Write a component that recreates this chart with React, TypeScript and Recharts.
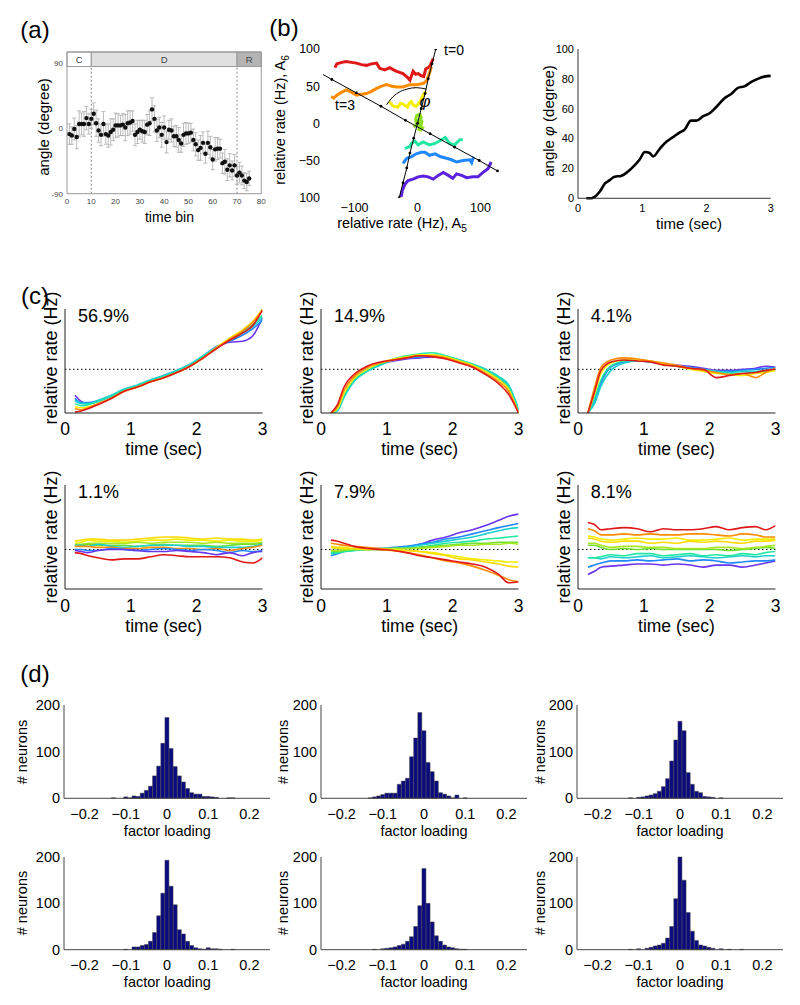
import React from "react";
import {
  Bar,
  BarChart,
  ComposedChart,
  ErrorBar,
  Line,
  LineChart,
  ReferenceArea,
  ReferenceLine,
  Scatter,
  ScatterChart,
  XAxis,
  YAxis,
} from "recharts";

const FONT = '"Liberation Sans", Arial, Helvetica, sans-serif';

// ---------- panel (a): angle per time bin ----------
const A_BINS = [
  1, 2, 3, 4, 5, 6, 7, 8, 9, 10, 11, 12, 13, 14, 15, 16, 17, 18, 19, 20, 21, 22, 23, 24, 25,
  26, 27, 28, 29, 30, 31, 32, 33, 34, 35, 36, 37, 38, 39, 40, 41, 42, 43, 44, 45, 46, 47, 48, 49, 50,
  51, 52, 53, 54, 55, 56, 57, 58, 59, 60, 61, 62, 63, 64, 65, 66, 67, 68, 69, 70, 71, 72, 73, 74, 75,
];
const A_ANGLE = [
  -8, -10, -1, -12, 6, 6, 6, 14, 6, 13, 20, 7, -3, -9, 6, -8, -10, -5, -2, 4, 4, 4, 5, 1, 7,
  8, 10, -9, -5, -2, -4, -5, 5, 7, 26, 13, -3, 1, -9, 1, -19, -2, -3, -11, -11, -16, -21, -9, -7, -7,
  -6, -16, -22, -30, -27, -20, -35, -20, -26, -43, -29, -28, -28, -48, -46, -57, -51, -58, -51, -65, -61, -65, -72, -74, -69,
];
const A_ERR = [
  14, 12, 15, 16, 18, 15, 17, 16, 14, 13, 15, 18, 16, 15, 17,
  14, 16, 18, 15, 17, 16, 14, 15, 18, 17, 16, 14, 15, 16, 13,
  15, 16, 14, 17, 16, 18, 15, 14, 17, 16, 15, 13, 16, 14, 15,
  17, 12, 16, 15, 14, 13, 15, 16, 14, 17, 15, 13, 16, 15, 14,
  16, 15, 13, 14, 17, 15, 16, 13, 15, 12, 14, 13, 11, 12, 10,
];
const A_XTICKS = [0, 10, 20, 30, 40, 50, 60, 70, 80];

// ---------- panel (b), left: trajectories in the A5/A6 plane ----------
const TRAJ_RED: [number, number][] = [
  [-131, 75], [-128, 80], [-120, 82], [-113, 83], [-105, 82], [-97, 81], [-89, 79], [-81, 78], [-73, 80],
  [-65, 81], [-60, 74], [-52, 72], [-44, 75], [-38, 72], [-33, 70], [-23, 67], [-16, 62], [-12, 58],
  [-7, 70], [-3, 66], [1, 67], [6, 64], [10, 63], [13, 73], [19, 76], [25, 87],
];
const TRAJ_ORANGE: [number, number][] = [
  [-137, 36], [-133, 34], [-128, 38], [-120, 42], [-113, 45], [-105, 42], [-97, 38], [-89, 39], [-81, 40],
  [-73, 43], [-65, 47], [-57, 50], [-49, 52], [-41, 50], [-33, 49], [-23, 49], [-12, 52], [-2, 52],
  [5, 53], [10, 54], [15, 58], [17, 63], [20, 70], [22, 76],
];
const TRAJ_YELLOW: [number, number][] = [
  [-45, 29], [-38, 23], [-31, 22], [-27, 27], [-23, 26], [-16, 22], [-13, 27], [-10, 29], [-6, 24],
  [-2, 23], [1, 26], [4, 29], [9, 38], [13, 43],
];
const TRAJ_LIME: [number, number][] = [
  [-6, -5], [-2, -2], [3, 3], [6, 8], [4, 12], [-1, 11], [-3, 6], [-2, 0], [2, -4], [6, -2], [7, 3],
  [4, 6], [1, 4], [3, -3], [8, -6], [5, -9], [0, -7],
];
const TRAJ_SPRING: [number, number][] = [
  [-20, -34], [-12, -31], [-10, -27], [-4, -24], [1, -29], [9, -25], [19, -29], [28, -27], [38, -22],
  [44, -19], [51, -27], [59, -29], [67, -22], [72, -22],
];
const TRAJ_BLUE: [number, number][] = [
  [-23, -54], [-17, -47], [-10, -45], [-2, -41], [6, -39], [12, -39], [19, -43], [28, -41], [37, -45],
  [46, -47], [54, -49], [62, -52], [72, -50], [83, -49], [86, -53], [89, -45],
];
const TRAJ_PURPLE: [number, number][] = [
  [-26, -99], [-24, -90], [-20, -82], [-15, -77], [-7, -75], [1, -72], [9, -71], [17, -72], [25, -75],
  [33, -70], [41, -66], [49, -70], [56, -74], [62, -68], [70, -70], [78, -73], [88, -72], [96, -72],
  [104, -66], [112, -61], [117, -52],
];
// the two reference axes (t=3 end line and t=0 start line)
const END_LINE: [number, number][] = [
  [-155, 68], [-136, 59], [-97, 41], [-58, 23], [-19, 4], [20, -14], [59, -32], [98, -50], [127, -64],
];
const START_LINE: [number, number][] = [
  [-29, -100], [-23, -80], [-17, -60], [-12, -40], [-6, -20], [0, 0], [6, 20], [12, 40], [17, 60], [23, 80], [29, 100],
];
const PHI_ARC: [number, number][] = [
  [-49, 25], [-41, 34], [-31, 41], [-17, 46], [-2, 48], [14, 46],
];

// ---------- panel (b), right: angle phi over time ----------
const PHI_T = [
  0.13, 0.21, 0.26, 0.34, 0.42, 0.49, 0.57, 0.67, 0.78, 0.88, 0.96, 1.04, 1.11, 1.17, 1.27, 1.38,
  1.48, 1.58, 1.66, 1.76, 1.84, 1.95, 2.05, 2.15, 2.28, 2.39, 2.49, 2.59, 2.7, 2.8, 2.9, 3.0,
];
const PHI_DEG = [
  0, 0, 1, 4.5, 10, 12, 14.5, 15, 18, 22, 26, 31, 30.5, 28, 33, 38,
  41, 44, 46, 52, 52, 55, 57, 61, 67, 70, 74, 75, 78, 80, 81.5, 82,
];

// ---------- panel (c): relative rates ----------
const T_C = [0.15, 0.25, 0.35, 0.5, 0.7, 0.9, 1.1, 1.3, 1.5, 1.7, 1.9, 2.1, 2.3, 2.5, 2.7, 2.85, 3.0];

const PURPLE = "#6a35ee";
const BLUE = "#2088ff";
const CYAN = "#18d0d0";
const SPRING = "#20e8a0";
const LIME = "#a8e820";
const GREEN = "#70e030";
const YELLOW = "#f4ee00";
const GOLD = "#ffdc00";
const ORANGE = "#ff8c00";
const RED = "#e01818";

const COLORS7 = [PURPLE, BLUE, CYAN, SPRING, YELLOW, ORANGE, RED];

const C1 = [
  [-25, -31, -33, -31, -26, -20, -16, -11, -7, -2, 4, 12, 21, 26, 27, 32, 50],
  [-28, -32, -32, -30, -26, -20, -16, -11, -6, -1, 5, 13, 22, 27, 33, 39, 47],
  [-30, -33, -33, -30, -25, -19, -15, -10, -6, -1, 5, 13, 21, 28, 35, 41, 50],
  [-33, -35, -34, -31, -26, -20, -16, -11, -7, -2, 4, 12, 20, 29, 36, 43, 52],
  [-36, -37, -36, -33, -28, -21, -17, -12, -8, -3, 3, 11, 21, 30, 38, 46, 58],
  [-38, -39, -37, -33, -28, -21, -17, -12, -8, -3, 3, 11, 20, 29, 37, 45, 57],
  [-41, -40, -38, -34, -28, -21, -17, -12, -8, -3, 3, 11, 20, 28, 35, 42, 57],
];
const C2 = [
  [-42, -38, -24, -9, 0, 5, 8, 10, 11, 12, 11, 8, 4, -2, -9, -18, -41],
  [-42, -39, -26, -11, -1, 5, 9, 11, 12, 13, 12, 9, 4, -1, -8, -16, -40],
  [-42, -40, -27, -12, -2, 4, 9, 12, 13, 14, 12, 9, 5, 0, -7, -15, -38],
  [-42, -39, -25, -10, -1, 5, 10, 13, 15, 16, 13, 9, 5, -1, -8, -17, -40],
  [-42, -38, -23, -9, 0, 6, 10, 12, 14, 14, 12, 8, 4, -2, -10, -19, -42],
  [-42, -36, -20, -7, 2, 6, 9, 11, 13, 13, 11, 7, 3, -4, -12, -21, -42],
  [-42, -34, -17, -5, 3, 7, 9, 11, 13, 12, 10, 6, 2, -5, -14, -24, -42],
];
const C3 = [
  [-42, -30, -12, 3, 7, 8, 7, 5, 4, 3, 1, -1, -1, 0, 1, 3, 2],
  [-42, -31, -13, 2, 7, 8, 7, 5, 3, 2, 0, -2, -2, -1, 0, 1, 2],
  [-42, -33, -16, -1, 6, 8, 7, 5, 3, 1, 0, -2, -3, -2, -2, -1, 1],
  [-42, -28, -10, 3, 8, 9, 8, 5, 3, 1, -1, -3, -4, -4, -3, -2, 0],
  [-42, -24, -4, 6, 9, 9, 8, 5, 3, 0, -2, -4, -5, -6, -4, -3, -1],
  [-42, -18, 2, 9, 11, 10, 8, 6, 4, 1, -1, -3, -5, -4, -8, -3, 1],
  [-42, -22, -1, 7, 9, 8, 7, 4, 3, 1, 0, -8, -6, -4, -3, -1, 0],
];
const C4_COLORS = [GOLD, YELLOW, LIME, GREEN, CYAN, ORANGE, BLUE, PURPLE, RED];
const C4 = [
  [8, 9, 10, 10, 9, 9, 10, 11, 12, 12, 11, 10, 11, 10, 10, 9, 10],
  [6, 7, 9, 8, 8, 7, 8, 9, 9, 10, 9, 9, 8, 9, 8, 8, 9],
  [5, 5, 6, 6, 6, 6, 7, 6, 7, 7, 7, 6, 7, 6, 6, 6, 7],
  [3, 4, 5, 4, 4, 4, 3, 4, 5, 4, 4, 4, 3, 4, 5, 5, 6],
  [4, 4, 3, 5, 3, 2, 3, 4, 4, 4, 3, 3, 2, 2, 2, 3, 5],
  [3, 3, 3, 2, 2, 1, 1, 2, 2, 1, 1, 0, 1, -1, 1, 2, 4],
  [0, 0, -1, -1, 1, 0, -1, 0, 1, 0, -1, 0, -1, -3, -1, -2, -1],
  [-1, -2, -3, -1, 0, 0, -1, -2, -2, -1, -2, -3, -5, -3, -6, -3, -2],
  [-3, -4, -6, -8, -10, -9, -9, -7, -5, -6, -7, -7, -7, -8, -12, -13, -8],
];
const COLORS10 = [PURPLE, BLUE, CYAN, SPRING, GREEN, LIME, YELLOW, GOLD, ORANGE, RED];
const C5 = [
  [-1, -1, 0, 0, 0, 0, 1, 2, 5, 9, 12, 16, 19, 23, 28, 32, 34],
  [-6, -4, -2, 0, 1, 1, 2, 3, 5, 7, 10, 12, 15, 18, 21, 23, 25],
  [-4, -3, -2, -1, 0, 1, 1, 2, 4, 6, 8, 10, 12, 15, 18, 20, 21],
  [-3, -3, -2, -1, 0, 0, 1, 1, 2, 4, 6, 7, 8, 10, 11, 12, 13],
  [-2, -2, -1, 0, 0, 0, 1, 1, 2, 3, 4, 5, 6, 6, 7, 7, 7],
  [-1, -1, 0, 0, 0, 1, 1, 1, 1, 2, 3, 4, 4, 5, 5, 6, 5],
  [2, 1, 1, 1, 0, 0, 0, -1, -2, -3, -5, -7, -9, -10, -11, -12, -12],
  [3, 2, 2, 1, 1, 0, -1, -1, -2, -4, -6, -9, -10, -12, -14, -16, -17],
  [6, 5, 4, 3, 2, 1, -1, -3, -5, -8, -11, -13, -16, -20, -25, -29, -31],
  [9, 8, 6, 3, 1, 0, -1, -3, -6, -8, -10, -12, -14, -17, -24, -32, -31],
];
const C6 = [
  [-24, -21, -17, -16, -15, -14, -14, -15, -14, -15, -17, -15, -15, -17, -15, -13, -11],
  [-17, -15, -13, -11, -11, -10, -11, -10, -9, -11, -10, -11, -13, -12, -11, -11, -10],
  [-8, -8, -9, -7, -8, -7, -6, -8, -7, -6, -7, -8, -7, -6, -7, -6, -6],
  [-8, -8, -7, -5, -6, -4, -4, -6, -5, -4, -6, -5, -6, -4, -5, -3, -2],
  [4, 4, 2, 0, 1, 0, 1, 0, 0, 0, 0, 0, -1, 0, 1, 2, 1],
  [6, 6, 4, 2, 3, 3, 2, 2, 1, 1, 1, 2, 2, 1, 2, 3, 4],
  [13, 12, 10, 9, 10, 11, 10, 10, 11, 9, 9, 10, 11, 9, 10, 10, 10],
  [11, 10, 8, 7, 8, 8, 6, 7, 6, 8, 7, 8, 7, 6, 8, 8, 9],
  [20, 18, 14, 14, 15, 14, 15, 14, 14, 15, 15, 14, 13, 15, 14, 12, 12],
  [26, 24, 19, 20, 21, 20, 17, 20, 19, 19, 20, 22, 19, 21, 22, 19, 23],
];

// ---------- panel (d): factor loading histograms ----------
const D_BINS = [
  -0.15, -0.14, -0.13, -0.12, -0.11, -0.1, -0.09, -0.08, -0.07, -0.06, -0.05, -0.04, -0.03, -0.02, -0.01, 0,
  0.01, 0.02, 0.03, 0.04, 0.05, 0.06, 0.07, 0.08, 0.09, 0.1, 0.11, 0.12, 0.13, 0.14, 0.15, 0.16, 0.17, 0.18, 0.19, 0.2,
];
const D1 = [0, 0, 1, 0, 0, 3, 1, 5, 4, 11, 17, 26, 48, 69, 118, 173, 107, 68, 48, 35, 21, 12, 9, 9, 4, 4, 3, 2, 0, 0, 1, 1, 0, 0, 0, 0];
const D2 = [0, 0, 1, 3, 5, 8, 11, 11, 11, 30, 37, 43, 89, 129, 184, 145, 77, 57, 37, 12, 9, 5, 1, 7, 0, 1, 0, 0, 0, 0, 0, 0, 0, 0, 0, 0];
const D3 = [0, 0, 0, 1, 0, 2, 3, 5, 7, 10, 15, 25, 42, 80, 125, 165, 145, 55, 30, 15, 12, 4, 3, 2, 0, 1, 0, 0, 0, 0, 0, 0, 0, 0, 0, 0];
const D4 = [0, 0, 0, 0, 0, 1, 0, 6, 6, 9, 11, 18, 37, 73, 122, 193, 137, 97, 43, 34, 18, 9, 4, 2, 1, 4, 2, 2, 1, 0, 0, 1, 0, 0, 0, 0];
const D5 = [0, 0, 0, 1, 0, 2, 3, 4, 6, 9, 12, 18, 28, 50, 95, 175, 100, 60, 30, 18, 10, 6, 4, 2, 1, 1, 0, 0, 0, 0, 0, 0, 0, 0, 0, 0];
const D6 = [0, 0, 0, 1, 0, 2, 0, 3, 5, 8, 10, 14, 25, 50, 110, 200, 150, 80, 40, 20, 10, 8, 5, 3, 0, 2, 0, 1, 0, 0, 1, 0, 0, 0, 0, 0];

const minus = (v: number) => (v < 0 ? "\u2212" + Math.abs(v) : String(v));

function Txt({
  x, y, size, rotate, left, italic, color, children,
}: {
  x: number; y: number; size: number; rotate?: boolean; left?: boolean; italic?: boolean; color?: string;
  children: React.ReactNode;
}) {
  const tr = left ? "translate(0,-50%)" : "translate(-50%,-50%)";
  return (
    <div
      style={{
        position: "absolute", left: x, top: y, fontSize: size, lineHeight: 1, whiteSpace: "nowrap",
        transform: tr + (rotate ? " rotate(-90deg)" : ""), fontStyle: italic ? "italic" : "normal",
        color: color ?? "#000",
      }}
    >
      {children}
    </div>
  );
}

function RatePanel({
  x, y, lines, colors, pct, domain, gap, xLabelY, yLabelY,
}: {
  x: number; y: number; lines: number[][]; colors: string[]; pct: string; domain: [number, number];
  gap: number; xLabelY: number; yLabelY: number;
}) {
  const padL = 20, padT = 10, padR = 14, padB = 30;
  const w = 197.5, h = 104;
  const data = T_C.map((t, i) => {
    const row: Record<string, number> = { t };
    lines.forEach((l, j) => (row["s" + j] = l[i]));
    return row;
  });
  return (
    <>
      <div style={{ position: "absolute", left: x - padL, top: y - padT }}>
        <LineChart width={w + padL + padR} height={h + padT + padB} data={data} margin={{ top: padT, right: padR, left: 0, bottom: 0 }}>
          <XAxis dataKey="t" type="number" domain={[0, 3]} ticks={[0, 1, 2, 3]} interval={0} height={padB}
            tickLine={false} tickSize={0} tickMargin={gap} axisLine={{ stroke: "#222" }}
            tick={{ fontSize: 17.5, fill: "#000" }} allowDataOverflow />
          <YAxis type="number" domain={domain} width={padL} tick={false} tickLine={false}
            axisLine={{ stroke: "#222" }} allowDataOverflow />
          <ReferenceLine y={0} stroke="#000" strokeDasharray="1.5 2.5" />
          {lines.map((_, j) => (
            <Line key={j} dataKey={"s" + j} stroke={colors[j]} strokeWidth={1.6} dot={false} type="monotone" isAnimationActive={false} />
          ))}
        </LineChart>
      </div>
      <Txt x={x + 13} y={y + 7} size={18} left>{pct}</Txt>
      <Txt x={x + w / 2} y={xLabelY} size={17.5}>time (sec)</Txt>
      <Txt x={x - 14} y={yLabelY} size={18} rotate>relative rate (Hz)</Txt>
    </>
  );
}

function HistPanel({
  x, y, h, counts, labelX, labelY, xLabelY,
}: {
  x: number; y: number; h: number; counts: number[]; labelX: number; labelY: number; xLabelY: number;
}) {
  const padL = 40, padT = 10, padR = 16, padB = 30;
  const w = 206;
  const data = D_BINS.map((b, i) => ({ b, n: counts[i] }));
  return (
    <>
      <div style={{ position: "absolute", left: x - padL, top: y - padT }}>
        <BarChart width={w + padL + padR} height={h + padT + padB} data={data} margin={{ top: padT, right: padR, left: 0, bottom: 0 }}>
          <XAxis dataKey="b" type="number" domain={[-0.25, 0.25]} ticks={[-0.2, -0.1, 0, 0.1, 0.2]} interval={0}
            tickFormatter={minus} height={padB} tickLine={false} tickSize={0} tickMargin={10}
            axisLine={{ stroke: "#444" }} tick={{ fontSize: 14.5, fill: "#000" }} allowDataOverflow />
          <YAxis type="number" domain={[0, 200]} ticks={[0, 100, 200]} interval={0} width={padL} tickLine={false}
            tickSize={0} tickMargin={4} axisLine={{ stroke: "#444" }} tick={{ fontSize: 14.5, fill: "#000" }} />
          <Bar dataKey="n" fill="#0b0b80" stroke="#404040" strokeWidth={0.5} barSize={4} isAnimationActive={false} />
        </BarChart>
      </div>
      <Txt x={x + w / 2} y={xLabelY} size={14.5}>factor loading</Txt>
      <Txt x={labelX} y={labelY} size={14.5} rotate># neurons</Txt>
    </>
  );
}

function PanelA() {
  const plot = { x: 66.7, y: 52.3, w: 194.3, h: 141.7 };
  const padL = 30, padT = 6, padR = 10, padB = 16;
  const data = A_BINS.map((b, i) => ({ x: b, y: A_ANGLE[i], err: A_ERR[i] }));
  return (
    <>
      <div style={{ position: "absolute", left: plot.x - padL, top: plot.y - padT }}>
        <ScatterChart width={plot.w + padL + padR} height={plot.h + padT + padB} margin={{ top: padT, right: padR, left: 0, bottom: 0 }}>
          <XAxis dataKey="x" type="number" domain={[0, 80]} ticks={A_XTICKS} interval={0} height={padB}
            tickLine={false} axisLine={false} tickSize={0} tickMargin={5} tick={{ fontSize: 8, fill: "#444" }} />
          <YAxis dataKey="y" type="number" domain={[-90, 105]} ticks={[-90, 0, 90]} interval={0} width={padL}
            tickLine={false} axisLine={false} tickSize={0} tickMargin={4} tick={{ fontSize: 8, fill: "#444" }} />
          <ReferenceArea x1={0} x2={10} y1={85} y2={105} fill="#ffffff" fillOpacity={1} stroke="#999"
            label={{ value: "C", position: "center", fontSize: 9.5, fill: "#444" }} />
          <ReferenceArea x1={10} x2={70} y1={85} y2={105} fill="#e0e0e0" fillOpacity={1} stroke="#999"
            label={{ value: "D", position: "center", fontSize: 9.5, fill: "#444" }} />
          <ReferenceArea x1={70} x2={80} y1={85} y2={105} fill="#b4b4b4" fillOpacity={1} stroke="#999"
            label={{ value: "R", position: "center", fontSize: 9.5, fill: "#444" }} />
          <ReferenceArea x1={0} x2={80} y1={-90} y2={105} fill="none" stroke="#999" />
          <ReferenceLine segment={[{ x: 10, y: -90 }, { x: 10, y: 85 }]} stroke="#888" strokeDasharray="2 2" />
          <ReferenceLine segment={[{ x: 70, y: -90 }, { x: 70, y: 85 }]} stroke="#888" strokeDasharray="2 2" />
          <Scatter data={data} isAnimationActive={false}
            shape={(p: any) => <circle cx={p.cx} cy={p.cy} r={2.2} fill="#111" />}>
            <ErrorBar dataKey="err" direction="y" width={2} stroke="#aaa" strokeWidth={0.8} />
          </Scatter>
        </ScatterChart>
      </div>
      <Txt x={169.5} y={217} size={14}>time bin</Txt>
      <Txt x={43} y={127} size={15} rotate>angle (degree)</Txt>
    </>
  );
}

function PanelBLeft() {
  const plot = { x: 323.2, y: 49, w: 189, h: 148.7 };
  const padL = 40, padT = 10, padR = 10, padB = 20;
  const traj = [
    { pts: TRAJ_RED, c: RED },
    { pts: TRAJ_ORANGE, c: ORANGE },
    { pts: TRAJ_YELLOW, c: YELLOW },
    { pts: TRAJ_LIME, c: "#8ee020" },
    { pts: TRAJ_SPRING, c: SPRING },
    { pts: TRAJ_BLUE, c: BLUE },
    { pts: TRAJ_PURPLE, c: "#5a22e0" },
  ];
  const toRows = (p: [number, number][]) => p.map(([x, y]) => ({ x, y }));
  return (
    <>
      <div style={{ position: "absolute", left: plot.x - padL, top: plot.y - padT }}>
        <ComposedChart width={plot.w + padL + padR} height={plot.h + padT + padB} margin={{ top: padT, right: padR, left: 0, bottom: 0 }}>
          <XAxis dataKey="x" type="number" domain={[-150, 150]} ticks={[-100, 0, 100]} interval={0}
            tickFormatter={minus} height={padB} tickLine={false} axisLine={false} tickSize={0} tickMargin={5.5}
            tick={{ fontSize: 12.5, fill: "#000" }} allowDataOverflow />
          <YAxis dataKey="y" type="number" domain={[-100, 100]} ticks={[-100, -50, 0, 50, 100]} interval={0}
            tickFormatter={(v: number) => (v === -100 ? "100" : minus(v))} width={padL} tickLine={false}
            axisLine={false} tickSize={0} tickMargin={3} tick={{ fontSize: 12.5, fill: "#000" }} allowDataOverflow />
          {traj.map((t, i) => (
            <Line key={i} data={toRows(t.pts)} dataKey="y" stroke={t.c} strokeWidth={3} dot={false}
              type="linear" isAnimationActive={false} />
          ))}
          <Line data={toRows(END_LINE)} dataKey="y" stroke="#000" strokeWidth={1} type="linear"
            dot={{ r: 1.4, fill: "#000", stroke: "none" }} isAnimationActive={false} />
          <Line data={toRows(START_LINE)} dataKey="y" stroke="#000" strokeWidth={1} type="linear"
            dot={{ r: 1.4, fill: "#000", stroke: "none" }} isAnimationActive={false} />
          <Line data={toRows(PHI_ARC)} dataKey="y" stroke="#000" strokeWidth={1} type="monotone" dot={false}
            isAnimationActive={false} />
        </ComposedChart>
      </div>
      <Txt x={454} y={50} size={14}>t=0</Txt>
      <Txt x={345} y={105} size={14}>t=3</Txt>
      <Txt x={425} y={101} size={17} italic>φ</Txt>
      <Txt x={402} y={225} size={14.5}>relative rate (Hz), A<sub style={{ fontSize: "0.7em" }}>5</sub></Txt>
      <Txt x={282} y={120} size={14.5} rotate>relative rate (Hz), A<sub style={{ fontSize: "0.7em" }}>6</sub></Txt>
    </>
  );
}

function PanelBRight() {
  const plot = { x: 578.3, y: 49, w: 192.7, h: 149.3 };
  const padL = 30, padT = 10, padR = 12, padB = 18;
  const data = PHI_T.map((t, i) => ({ t, a: PHI_DEG[i] }));
  return (
    <>
      <div style={{ position: "absolute", left: plot.x - padL, top: plot.y - padT }}>
        <LineChart width={plot.w + padL + padR} height={plot.h + padT + padB} data={data} margin={{ top: padT, right: padR, left: 0, bottom: 0 }}>
          <XAxis dataKey="t" type="number" domain={[0, 3]} ticks={[0, 1, 2, 3]} interval={0} height={padB}
            tickLine={false} tickSize={0} tickMargin={6} axisLine={{ stroke: "#333" }} tick={{ fontSize: 11, fill: "#000" }} />
          <YAxis type="number" domain={[0, 100]} ticks={[0, 20, 40, 60, 80, 100]} interval={0} width={padL}
            tickLine={false} tickSize={0} tickMargin={4} axisLine={{ stroke: "#333" }} tick={{ fontSize: 11, fill: "#000" }} />
          <Line dataKey="a" stroke="#000" strokeWidth={2.6} dot={false} type="monotone" isAnimationActive={false} />
        </LineChart>
      </div>
      <Txt x={689} y={223} size={15}>time (sec)</Txt>
      <Txt x={548} y={121} size={15} rotate>angle <i>φ</i> (degree)</Txt>
    </>
  );
}

export default function App() {
  const cCols = [65, 321, 577.7];
  const dCols = [64.4, 321, 577];
  const dLabelX = [22, 283, 540];
  return (
    <div style={{ position: "absolute", left: 0, top: 0, width: 800, height: 1005, background: "#fff", fontFamily: FONT, color: "#000", overflow: "hidden" }}>
      <Txt x={35} y={30} size={24}>(a)</Txt>
      <Txt x={284} y={28} size={24}>(b)</Txt>
      <Txt x={35} y={296} size={24}>(c)</Txt>
      <Txt x={35} y={674} size={24}>(d)</Txt>

      <PanelA />
      <PanelBLeft />
      <PanelBRight />

      <RatePanel x={cCols[0]} y={309} lines={C1} colors={COLORS7} pct="56.9%" domain={[-42, 58]} gap={10} xLabelY={450} yLabelY={358} />
      <RatePanel x={cCols[1]} y={309} lines={C2} colors={COLORS7} pct="14.9%" domain={[-42, 58]} gap={10} xLabelY={450} yLabelY={358} />
      <RatePanel x={cCols[2]} y={309} lines={C3} colors={COLORS7} pct="4.1%" domain={[-42, 58]} gap={10} xLabelY={450} yLabelY={358} />
      <RatePanel x={cCols[0]} y={485} lines={C4} colors={C4_COLORS} pct="1.1%" domain={[-38, 62]} gap={11} xLabelY={627} yLabelY={537} />
      <RatePanel x={cCols[1]} y={485} lines={C5} colors={COLORS10} pct="7.9%" domain={[-38, 62]} gap={11} xLabelY={627} yLabelY={537} />
      <RatePanel x={cCols[2]} y={485} lines={C6} colors={COLORS10} pct="8.1%" domain={[-38, 62]} gap={11} xLabelY={627} yLabelY={537} />

      <HistPanel x={dCols[0]} y={705} h={93.3} counts={D1} labelX={dLabelX[0]} labelY={752} xLabelY={831} />
      <HistPanel x={dCols[1]} y={705} h={93.3} counts={D2} labelX={dLabelX[1]} labelY={752} xLabelY={831} />
      <HistPanel x={dCols[2]} y={705} h={93.3} counts={D3} labelX={dLabelX[2]} labelY={752} xLabelY={831} />
      <HistPanel x={dCols[0]} y={857.3} h={92.7} counts={D4} labelX={dLabelX[0]} labelY={903} xLabelY={982} />
      <HistPanel x={dCols[1]} y={857.3} h={92.7} counts={D5} labelX={dLabelX[1]} labelY={903} xLabelY={982} />
      <HistPanel x={dCols[2]} y={857.3} h={92.7} counts={D6} labelX={dLabelX[2]} labelY={903} xLabelY={982} />
    </div>
  );
}
